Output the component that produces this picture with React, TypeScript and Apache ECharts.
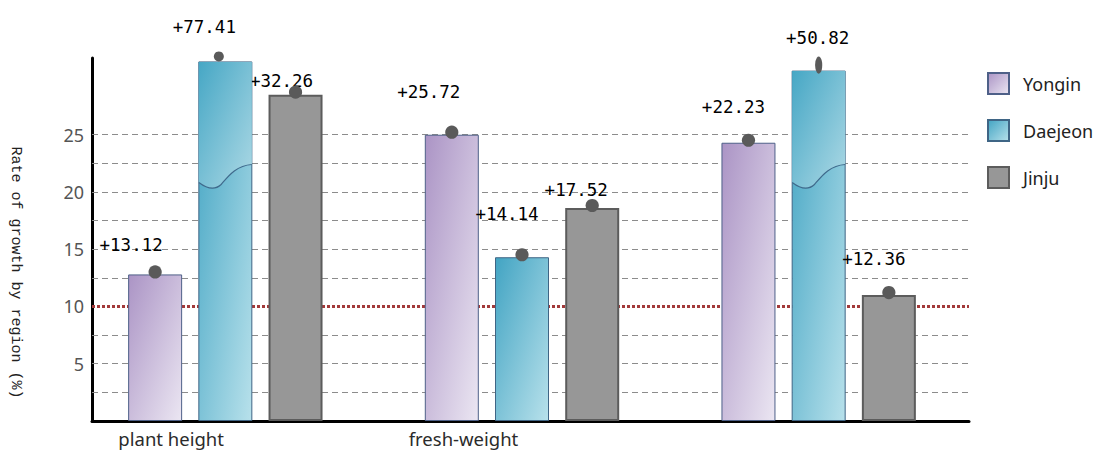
import React, { useEffect, useRef } from 'react';
import * as echarts from 'echarts';

// ---------- data ----------
const categories = ['plant height', 'fresh-weight', ''];
const regions = ['Yongin', 'Daejeon', 'Jinju'];
const yongin = [12.8, 25.0, 24.3];
const daejeon = [31.4, 14.3, 30.6];
const jinju = [28.5, 18.6, 11.0];
const yonginGrowth = [13.12, 25.72, 22.23];
const daejeonGrowth = [77.41, 14.14, 50.82];
const jinjuGrowth = [32.26, 17.52, 12.36];
const daejeonBreakAt = [22.4, null, 22.4];
const yTickValues = [5, 10, 15, 20, 25];
const gridLevels = [2.5, 5, 7.5, 12.5, 15, 17.5, 20, 22.5, 25];
const referenceLevel = 10;
const Y_MIN = 0;
const Y_MAX = 31.7;

// ---------- layout / style ----------
const BAR_W = 54;
const BAR_GAP = '30%';

const labelOffsets: Record<string, number[][]> = {
  Yongin: [[-24, -19], [-23, -33], [-15, -26]],
  Daejeon: [[-21, -24], [-15, -33], [-1, -23]],
  Jinju: [[-14, -4], [-16, -8], [-15, -26]],
};

const dotShape: Record<string, any[]> = {
  Yongin: [null, null, null],
  Daejeon: [{ symbolSize: [10, 10], symbolOffset: [-6.5, -10] }, null, { symbolSize: [7, 17], symbolOffset: [0, -14] }],
  Jinju: [null, null, null],
};

const grad = (a: string, b: string) =>
  new echarts.graphic.LinearGradient(0, 0, 1, 1, [
    { offset: 0, color: a },
    { offset: 1, color: b },
  ]);

const styles: Record<string, any> = {
  Yongin: { color: grad('#ab94c5', '#ebe6f2'), borderColor: '#4e6088', borderWidth: 1 },
  Daejeon: { color: grad('#42a4c3', '#b8e1eb'), borderColor: '#3f6585', borderWidth: 1 },
  Jinju: { color: '#979797', borderColor: '#5c5c5c', borderWidth: 2 },
};

const growthOf: Record<string, number[]> = { Yongin: yonginGrowth, Daejeon: daejeonGrowth, Jinju: jinjuGrowth };
const valuesOf: Record<string, number[]> = { Yongin: yongin, Daejeon: daejeon, Jinju: jinju };

// bars live on a second (hidden) grid whose category bands match the reference layout
const BAR_AXES = { xAxisIndex: 1, yAxisIndex: 1 };

function barSeries(name: string) {
  const values = valuesOf[name];
  const growth = growthOf[name];
  return {
    type: 'bar',
    name,
    ...BAR_AXES,
    barWidth: BAR_W,
    barGap: BAR_GAP,
    z: 2,
    emphasis: { disabled: true },
    itemStyle: styles[name],
    label: {
      show: true,
      position: 'top',
      distance: 0,
      formatter: (p: any) => '+' + growth[p.dataIndex].toFixed(2),
      fontFamily: 'DejaVu Sans Mono',
      fontSize: 17.5,
      lineHeight: 20,
      color: '#000',
    },
    data: values.map((v, i) => ({ value: v, label: { offset: labelOffsets[name][i] } })),
  };
}

function dotSeries(name: string) {
  const values = valuesOf[name];
  return {
    type: 'pictorialBar',
    name: name + ' marker',
    ...BAR_AXES,
    barWidth: BAR_W,
    barGap: BAR_GAP,
    symbol: 'circle',
    symbolSize: [13, 13],
    symbolPosition: 'end',
    symbolOffset: [0, -9],
    itemStyle: { color: '#5a5a5a' },
    z: 4,
    silent: true,
    data: values.map((v, i) => {
      const o = dotShape[name][i];
      return o ? { value: v, ...o } : v;
    }),
  };
}

const guideSeries = {
  type: 'line',
  name: 'guides',
  xAxisIndex: 0,
  yAxisIndex: 0,
  data: categories.map(() => '-'),
  showSymbol: false,
  silent: true,
  lineStyle: { opacity: 0 },
  markLine: {
    silent: true,
    z: 1,
    symbol: ['none', 'none'],
    label: { show: false },
    emphasis: { disabled: true },
    data: [
      ...gridLevels.map((v) => ({ yAxis: v, lineStyle: { color: '#8c8c8c', type: [6, 4], width: 1 } })),
      { yAxis: referenceLevel, lineStyle: { color: '#a33a3a', type: [3, 2], width: 3 } },
    ],
  },
};

const breakSeries = {
  type: 'custom',
  name: 'break',
  ...BAR_AXES,
  z: 3,
  silent: true,
  encode: { x: 0, y: 1 },
  data: daejeonBreakAt
    .map((b, i) => (b == null ? null : [i, daejeon[i], b]))
    .filter((d) => d !== null),
  renderItem: (params: any, api: any) => {
    const ci = api.value(0);
    const top = api.coord([ci, api.value(1)]);
    const brk = api.coord([ci, api.value(2)]);
    const x0 = top[0] - BAR_W / 2 + 0.5;
    const x1 = top[0] + BAR_W / 2 - 0.5;
    const w = x1 - x0;
    const yt = top[1] + 0.5;
    const yb = brk[1];
    const p = (fx: number, dy: number) => `${x0 + w * fx},${yb + dy}`;
    const wave = `M${p(0, 18)} C${p(0.15, 24)} ${p(0.3, 26)} ${p(0.42, 20)} C${p(0.55, 12)} ${p(0.7, 1)} ${p(1, 0)}`;
    const fill = `M${x0},${yt} L${x1},${yt} L${p(1, 0)} C${p(0.7, 1)} ${p(0.55, 12)} ${p(0.42, 20)} C${p(0.3, 26)} ${p(0.15, 24)} ${p(0, 18)} Z`;
    return {
      type: 'group',
      children: [
        {
          type: 'path',
          shape: { pathData: fill },
          style: { fill: grad('#46a7c5', '#add9e5'), stroke: 'none' },
        },
        {
          type: 'path',
          shape: { pathData: wave },
          style: { fill: 'none', stroke: '#3f6a8c', lineWidth: 1.2 },
        },
      ],
    };
  },
};

const option: any = {
  animation: false,
  backgroundColor: '#ffffff',
  grid: [
    { left: 89, right: 127, top: 58, bottom: 29 },
    { left: 77, right: 129, top: 58, bottom: 29 },
  ],
  legend: {
    data: regions,
    orient: 'vertical',
    left: 982,
    top: 67,
    itemWidth: 21,
    itemHeight: 21,
    itemGap: 24,
    icon: 'rect',
    selectedMode: false,
    textStyle: { fontFamily: 'Noto Sans', fontSize: 18, color: '#222', padding: [0, 0, 0, 9] },
  },
  xAxis: [
    {
      type: 'category',
      gridIndex: 0,
      data: categories,
      axisTick: { show: false },
      axisLine: { show: true, lineStyle: { color: '#000', width: 3 } },
      axisLabel: {
        margin: 8,
        fontFamily: 'Noto Sans',
        fontSize: 18.5,
        color: '#2b2b2b',
        padding: [0, 134, 0, 0],
      },
    },
    {
      type: 'category',
      gridIndex: 1,
      data: categories,
      show: false,
    },
  ],
  yAxis: [
    {
      type: 'value',
      gridIndex: 0,
      min: Y_MIN,
      max: Y_MAX,
      interval: 5,
      splitLine: { show: false },
      axisTick: { show: false },
      axisLine: { show: true, lineStyle: { color: '#000', width: 3 } },
      axisLabel: {
        margin: 8,
        fontFamily: 'Noto Sans',
        fontSize: 18,
        color: '#555',
        formatter: (v: number) => (yTickValues.includes(v) ? String(v) : ''),
      },
      name: 'Rate of growth by region (%)',
      nameLocation: 'middle',
      nameGap: 69,
      nameRotate: -90,
      nameTextStyle: {
        fontFamily: 'Liberation Mono',
        fontSize: 15,
        color: '#222',
        padding: [0, 0, 0, 66],
      },
    },
    {
      type: 'value',
      gridIndex: 1,
      min: Y_MIN,
      max: Y_MAX,
      show: false,
      splitLine: { show: false },
    },
  ],
  series: [
    guideSeries,
    barSeries('Yongin'),
    barSeries('Daejeon'),
    barSeries('Jinju'),
    breakSeries,
    dotSeries('Yongin'),
    dotSeries('Daejeon'),
    dotSeries('Jinju'),
  ],
};

export default function App() {
  const ref = useRef<HTMLDivElement>(null);
  useEffect(() => {
    const chart = echarts.init(ref.current!, undefined, { renderer: 'svg' });
    chart.setOption(option);
    return () => chart.dispose();
  }, []);
  return (
    <div
      ref={ref}
      style={{ position: 'absolute', left: 0, top: 0, width: 1096, height: 450 }}
    />
  );
}
